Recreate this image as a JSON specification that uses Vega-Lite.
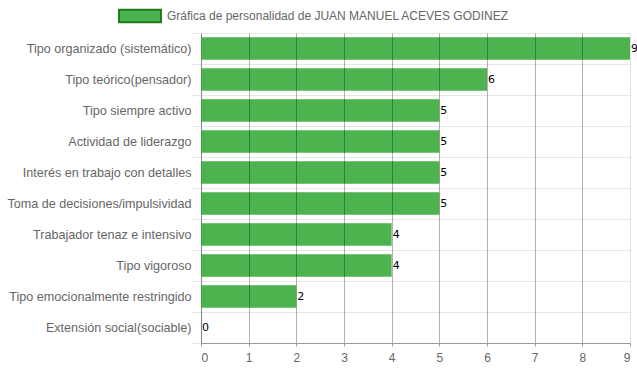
{
  "$schema": "https://vega.github.io/schema/vega-lite/v6.json",
  "width": 429,
  "height": 310,
  "autosize": {"type": "none"},
  "padding": {"left": 201, "top": 33, "right": 7, "bottom": 28},
  "background": "white",
  "config": {
    "view": {"stroke": null},
    "font": "Liberation Sans",
    "axis": {"labelFont": "Liberation Sans", "labelFontSize": 12, "labelColor": "#666666"}
  },
  "data": {
    "values": [
      {"rasgo": "Tipo organizado (sistemático)", "valor": 9, "serie": "Gráfica de personalidad de JUAN MANUEL ACEVES GODINEZ"},
      {"rasgo": "Tipo teórico(pensador)", "valor": 6, "serie": "Gráfica de personalidad de JUAN MANUEL ACEVES GODINEZ"},
      {"rasgo": "Tipo siempre activo", "valor": 5, "serie": "Gráfica de personalidad de JUAN MANUEL ACEVES GODINEZ"},
      {"rasgo": "Actividad de liderazgo", "valor": 5, "serie": "Gráfica de personalidad de JUAN MANUEL ACEVES GODINEZ"},
      {"rasgo": "Interés en trabajo con detalles", "valor": 5, "serie": "Gráfica de personalidad de JUAN MANUEL ACEVES GODINEZ"},
      {"rasgo": "Toma de decisiones/impulsividad", "valor": 5, "serie": "Gráfica de personalidad de JUAN MANUEL ACEVES GODINEZ"},
      {"rasgo": "Trabajador tenaz e intensivo", "valor": 4, "serie": "Gráfica de personalidad de JUAN MANUEL ACEVES GODINEZ"},
      {"rasgo": "Tipo vigoroso", "valor": 4, "serie": "Gráfica de personalidad de JUAN MANUEL ACEVES GODINEZ"},
      {"rasgo": "Tipo emocionalmente restringido", "valor": 2, "serie": "Gráfica de personalidad de JUAN MANUEL ACEVES GODINEZ"},
      {"rasgo": "Extensión social(sociable)", "valor": 0, "serie": "Gráfica de personalidad de JUAN MANUEL ACEVES GODINEZ"}
    ]
  },
  "encoding": {
    "y": {
      "field": "rasgo",
      "type": "nominal",
      "sort": null,
      "scale": {"paddingInner": 0, "paddingOuter": 0},
      "axis": {
        "title": null,
        "tickBand": "extent",
        "grid": true,
        "gridColor": "#e8e8e8",
        "gridWidth": 1,
        "tickColor": "#e8e8e8",
        "tickSize": 10,
        "labelPadding": 0,
        "labelFontSize": 12.6,
        "labelLimit": 300,
        "domainColor": "#999999",
        "domainWidth": 1
      }
    },
    "x": {
      "field": "valor",
      "type": "quantitative",
      "scale": {"domain": [0, 9], "nice": false},
      "axis": {
        "title": null,
        "values": [0, 1, 2, 3, 4, 5, 6, 7, 8, 9],
        "labelOverlap": false,
        "grid": true,
        "gridColor": "#000000",
        "gridOpacity": {"condition": {"test": "datum.value === 9 || datum.value === 0", "value": 0.12}, "value": 0.3},
        "domainColor": "#999999",
        "tickColor": "#999999",
        "tickSize": 3,
        "labelPadding": 6,
        "zindex": 1
      }
    }
  },
  "layer": [
    {
      "mark": {"type": "bar", "height": {"band": 0.72}},
      "encoding": {
        "color": {
          "field": "serie",
          "type": "nominal",
          "scale": {"range": ["#4CB34F"]},
          "legend": {
            "title": null,
            "orient": "none",
            "legendX": -83,
            "legendY": -39,
            "symbolType": "M-1,-0.3H1V0.3H-1Z",
            "symbolSize": 1764,
            "symbolStrokeColor": "#1C7F1C",
            "symbolStrokeWidth": 2,
            "symbolOpacity": 1,
            "labelFont": "Liberation Sans",
            "labelFontSize": 12,
            "labelColor": "#666666",
            "labelLimit": 500,
            "labelOffset": 5
          }
        }
      }
    },
    {
      "mark": {"type": "text", "align": "left", "baseline": "middle", "dx": 1, "font": "DejaVu Sans", "fontSize": 11, "color": "#000000"},
      "encoding": {
        "text": {"field": "valor", "type": "quantitative"}
      }
    }
  ]
}
